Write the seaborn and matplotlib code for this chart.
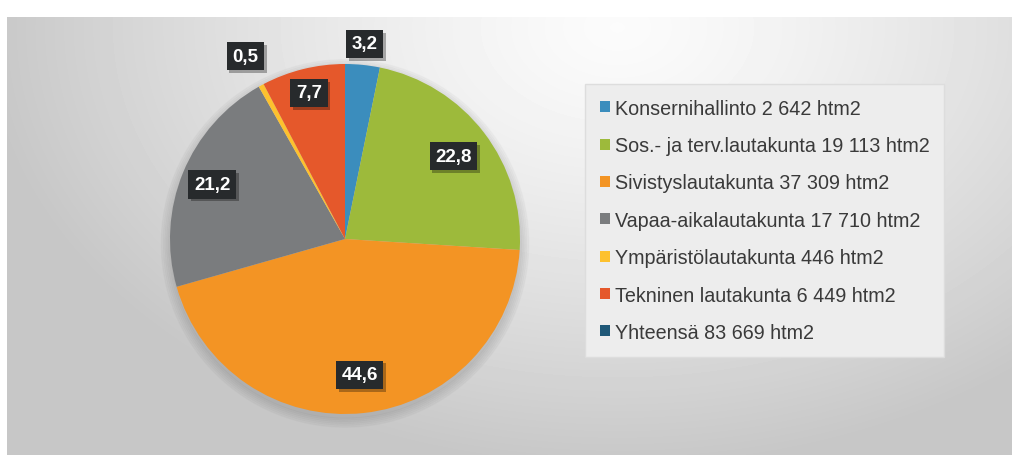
import matplotlib
matplotlib.use("Agg")
import matplotlib.pyplot as plt
import matplotlib.patheffects as pe
import numpy as np
import seaborn as sns
from matplotlib.patches import Patch

# data
categories = [
    "Konsernihallinto 2 642 htm2",
    "Sos.- ja terv.lautakunta 19 113 htm2",
    "Sivistyslautakunta 37 309 htm2",
    "Vapaa-aikalautakunta 17 710 htm2",
    "Ympäristölautakunta 446 htm2",
    "Tekninen lautakunta 6 449 htm2",
]
shares = [3.2, 22.8, 44.6, 21.2, 0.5, 7.7]
share_labels = ["3,2", "22,8", "44,6", "21,2", "0,5", "7,7"]
total_label = "Yhteensä 83 669 htm2"

colors = ["#3b8dbd", "#9dba3b", "#f39424", "#7a7c7e", "#fdc12e", "#e5582b"]
total_color = "#1f5877"
# radial position of each value box (fraction of radius)
label_r = [1.12, 0.78, 0.78, 0.82, 1.19, 0.86]

sns.set_theme(style="white")
plt.rcParams["font.family"] = ["Liberation Sans", "DejaVu Sans"]

W, H = 1028, 456
fig = plt.figure(figsize=(W / 100, H / 100), dpi=100)
fig.patch.set_facecolor("white")

# gradient background panel
bg = fig.add_axes([7 / W, 0, (1012 - 7) / W, (H - 18) / H])
yy, xx = np.mgrid[0:438, 0:1005]
d = np.sqrt(((xx - 610) / 620.0) ** 2 + ((yy - 10) / 430.0) ** 2)
shade = np.clip(0.985 - 0.2 * d ** 1.3, 0.78, 0.985)
bg.imshow(shade, cmap="gray", vmin=0, vmax=1, aspect="auto", interpolation="bilinear")
bg.set_axis_off()

# pie
cx, cy, rad, lim = 345, 216, 175, 1.3
half = rad * lim
ax = fig.add_axes([(cx - half) / W, (cy - half) / H, 2 * half / W, 2 * half / H])
for k in range(6):
    sh = plt.Circle((0.0, -0.025), 1.0 + 0.01 * k, color="black", alpha=0.018, zorder=0)
    ax.add_patch(sh)
wedges, _ = ax.pie(shares, colors=colors, startangle=90, counterclock=False,
                   wedgeprops=dict(linewidth=0))
ax.set_xlim(-lim, lim)
ax.set_ylim(-lim, lim)
ax.set_aspect("equal")
ax.set_axis_off()

for w, txt, r in zip(wedges, share_labels, label_r):
    ang = np.deg2rad((w.theta1 + w.theta2) / 2)
    t = ax.text(r * np.cos(ang), r * np.sin(ang), txt, ha="center", va="center",
                color="white", fontsize=13.5, fontweight="bold", zorder=5,
                bbox=dict(boxstyle="square,pad=0.3", facecolor="#272a2c", edgecolor="none"))
    t.get_bbox_patch().set_path_effects([
        pe.SimplePatchShadow(offset=(2, -2), shadow_rgbFace="black", alpha=0.3),
        pe.Normal(),
    ])

handles = [Patch(facecolor=c, edgecolor="none") for c in colors]
handles.append(Patch(facecolor=total_color, edgecolor="none"))
leg = fig.legend(handles, categories + [total_label], loc="upper left",
                 bbox_to_anchor=(585 / W, 1 - 85 / H), borderaxespad=0,
                 fontsize=14.2, labelspacing=0.93, handlelength=0.5, handleheight=0.5,
                 handletextpad=0.25, borderpad=0.75, fancybox=False, frameon=True,
                 labelcolor="#3a3a3a")
leg.get_frame().set_facecolor("#ededed")
leg.get_frame().set_edgecolor("#dddddd")
leg.get_frame().set_alpha(1)

fig.savefig("out.png", dpi=100)
